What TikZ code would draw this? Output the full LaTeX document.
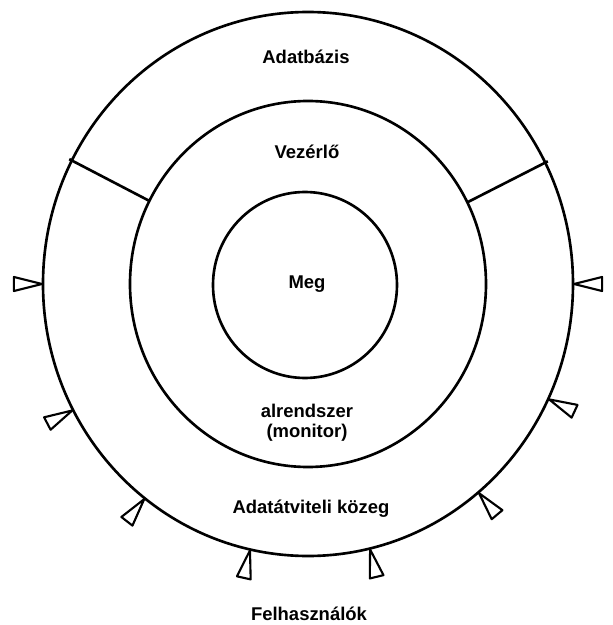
\documentclass[tikz,border=0pt]{standalone}
\usepackage{fontspec}
\setmainfont{Liberation Sans}
\usetikzlibrary{calc}
\tikzset{
  ring/.style={line width=1.5pt},
  user/.style={line width=1.2pt,line join=round},
  lbl/.style={font=\bfseries\fontsize{10.5}{11.5}\selectfont,align=center}
}

\begin{document}
\begin{tikzpicture}[x=0.2mm,y=0.2mm]
  \useasboundingbox (0,0) rectangle (613,625);
  \coordinate (c) at (308,341);
  \draw[ring] (c) ellipse (265 and 272);
  \draw[ring] (c) ellipse (178 and 183);
  \draw[ring] (305,340) ellipse (92 and 93);
  \draw[ring] ($(c)+(153:178 and 183)$) -- ($(c)+(153:268 and 275)$);
  \draw[ring] ($(c)+(26.5:178 and 183)$) -- ($(c)+(26.5:268 and 275)$);
  \foreach \a in {0,180,207.6,232,257.4,283.5,310,335}
    \draw[user] ($(c)+(\a:266 and 273)$) -- +(\a+14:29) -- +(\a-14:29) -- cycle;
  \node[lbl] (db) at (306,568) {Adatbázis};
  \node[lbl] (ctl) at (307,473) {Vezérlő};
  \node[lbl] (meg) at (307,341) {Meg};
  \node[lbl] (mon) at (307,202) {alrendszer\\(monitor)};
  \node[lbl] (net) at (311,116) {Adatátviteli közeg};
  \node[lbl] (usr) at (309,11) {Felhasználók};
\end{tikzpicture}
\end{document}
